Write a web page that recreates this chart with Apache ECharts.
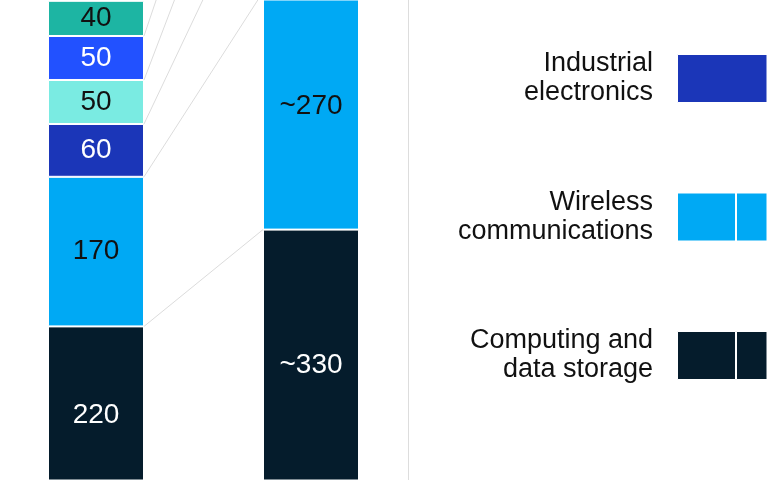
<!DOCTYPE html>
<html>
<head>
<meta charset="utf-8">
<script src="https://cdn.jsdelivr.net/npm/echarts@6/dist/echarts.min.js"></script>
<style>
html,body{margin:0;padding:0;background:#fff;}
#chart{width:767px;height:480px;}
</style>
</head>
<body>
<div id="chart"></div>
<script>
// ---- data ----
const barCategories = ['Left', 'Gap', 'Right'];
const barIndex = [0, 2];                 // category index of the left / right bar
const segmentNames = ['Computing and data storage', 'Wireless communications', 'Industrial electronics', 'Segment 4', 'Segment 5', 'Segment 6'];
const segmentColors = ['#051c2c', '#00a9f4', '#1b36b8', '#7aebe2', '#2251ff', '#1db5a3'];
const labelColors = ['#ffffff', '#111111', '#ffffff', '#111111', '#ffffff', '#111111'];
const leftValues = [220, 170, 60, 50, 50, 40];
const rightValues = [330, 270, 135, 120, 95, 80];
const leftLabels = ['220', '170', '60', '50', '50', '40'];
const rightLabels = ['~330', '~270', '', '', '', ''];

const sideCategories = ['Industrial\nelectronics', 'Wireless\ncommunications', 'Computing and\ndata storage'];
const sideColors = ['#1b36b8', '#00a9f4', '#051c2c'];
const sideFirst = [120, 59, 59];
const sideSecond = [0, 60, 60];

// ---- build ----
const font = 'Liberation Sans, Arial, sans-serif';
const labelOffsets = { '0-0': [0, 12], '0-1': [0, 10.5], '1-1': [0, -8.5] };
const series = [];
segmentNames.forEach((name, i) => {
  const vals = [leftValues[i], rightValues[i]];
  const labs = [leftLabels[i], rightLabels[i]];
  const data = barCategories.map(() => '-');
  barIndex.forEach((ci, j) => {
    data[ci] = { value: vals[j], label: { offset: labelOffsets[i + '-' + j] || [0, 0] } };
  });
  series.push({
    name: name,
    type: 'bar',
    stack: 'main',
    xAxisIndex: 0, yAxisIndex: 0,
    barWidth: 96,
    itemStyle: { color: segmentColors[i], borderColor: '#ffffff', borderWidth: 1 },
    label: {
      show: true,
      position: 'inside',
      fontFamily: font,
      fontSize: 28,
      color: labelColors[i],
      formatter: p => labs[barIndex.indexOf(p.dataIndex)]
    },
    data: data
  });
});

// connector lines between cumulative boundaries
const connectors = [];
let cl = 0, cr = 0;
for (let i = 0; i < leftValues.length - 1; i++) {
  cl += leftValues[i]; cr += rightValues[i];
  connectors.push([barIndex[0], cl, barIndex[1], cr]);
}
series.push({
  type: 'custom',
  xAxisIndex: 0, yAxisIndex: 0,
  encode: { x: [0, 2], y: [1, 3] },
  z: 1,
  silent: true,
  clip: false,
  renderItem: (params, api) => {
    const p0 = api.coord([api.value(0), api.value(1)]);
    const p1 = api.coord([api.value(2), api.value(3)]);
    return {
      type: 'line',
      shape: { x1: p0[0] + 48, y1: p0[1], x2: p1[0] - 48, y2: p1[1] },
      style: { stroke: '#dcdcdc', lineWidth: 1 }
    };
  },
  data: connectors
});

// side bars
series.push({
  type: 'bar', stack: 'side', xAxisIndex: 1, yAxisIndex: 1, barWidth: 49,
  itemStyle: { borderColor: '#ffffff', borderWidth: 1 },
  data: sideFirst.map((v, i) => ({ value: v, itemStyle: { color: sideColors[i] } }))
});
series.push({
  type: 'bar', stack: 'side', xAxisIndex: 1, yAxisIndex: 1, barWidth: 49,
  itemStyle: { borderColor: '#ffffff', borderWidth: 1 },
  data: sideSecond.map((v, i) => ({ value: v, itemStyle: { color: sideColors[i] } }))
});

const chart = echarts.init(document.getElementById('chart'), null, { renderer: 'canvas' });
chart.setOption({
  animation: false,
  backgroundColor: '#ffffff',
  grid: [
    { left: 42.25, width: 322.5, top: 0, bottom: 0 },
    { left: 677, right: 0, top: 9.25, bottom: 55.25 }
  ],
  xAxis: [
    { type: 'category', gridIndex: 0, data: barCategories, show: false },
    { type: 'value', gridIndex: 1, min: 0, max: 90, show: false }
  ],
  yAxis: [
    { type: 'value', gridIndex: 0, min: 45.4545, max: 590.909, show: false },
    {
      type: 'category', gridIndex: 1, data: sideCategories, inverse: true,
      axisLine: { show: false }, axisTick: { show: false }, splitLine: { show: false },
      axisLabel: {
        margin: 24, fontFamily: font, fontSize: 27, lineHeight: 29,
        color: '#111111', align: 'right'
      }
    }
  ],
  graphic: [
    {
      type: 'line', silent: true,
      shape: { x1: 408.5, y1: 0, x2: 408.5, y2: 480 },
      style: { stroke: '#dddddd', lineWidth: 1 }
    }
  ],
  series: series
});
</script>
</body>
</html>
